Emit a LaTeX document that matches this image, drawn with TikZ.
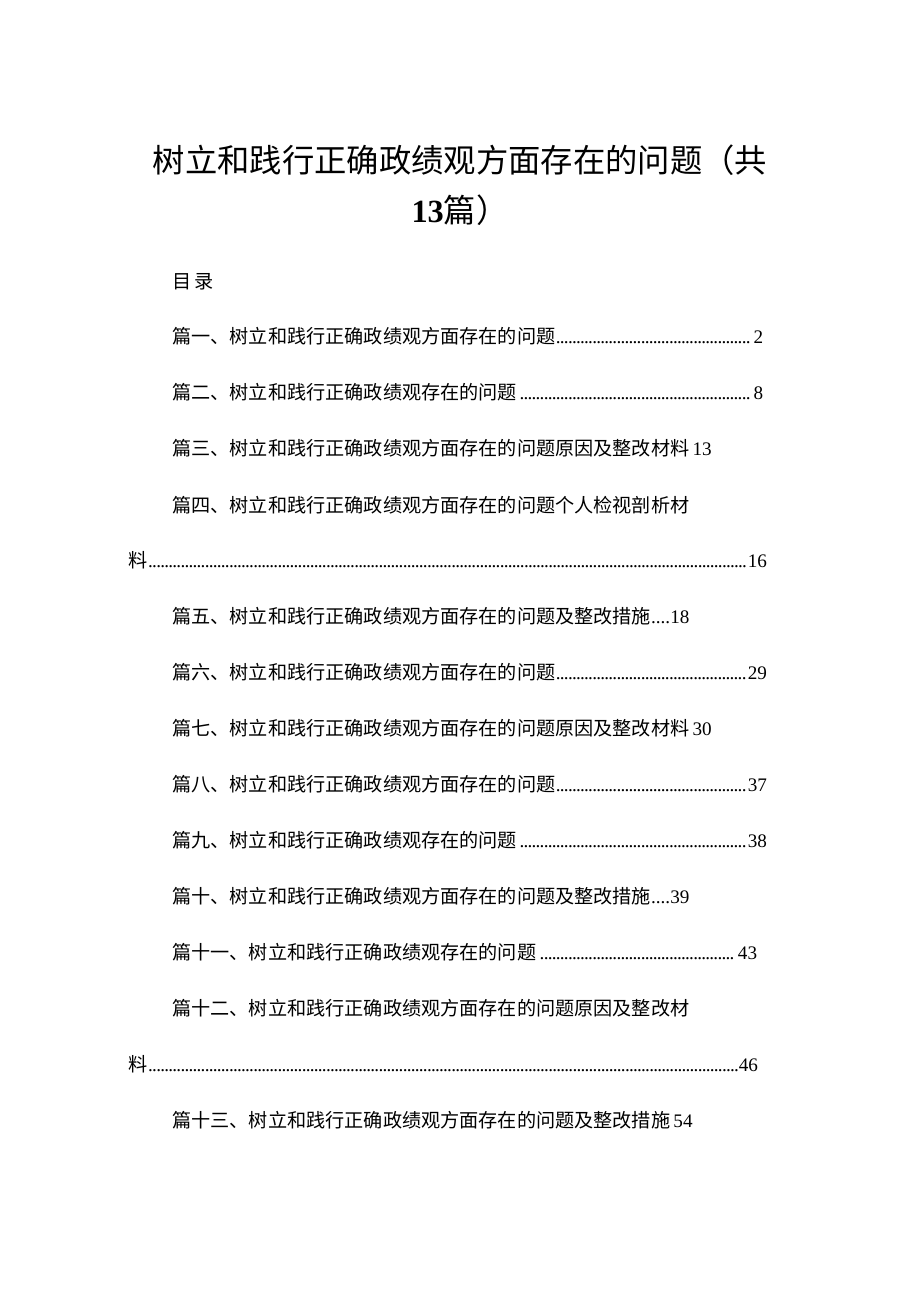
\documentclass[tikz,border=0pt]{standalone}
\usepackage{fontspec}
\setmainfont{Liberation Serif}
\newfontfamily\cjk{Noto Sans CJK SC}
\usetikzlibrary{positioning}
\tikzset{
  tocText/.style = {anchor=west, inner sep=0pt, font=\fontsize{10.9}{12}\selectfont},
  titleText/.style = {inner sep=0pt, font=\fontsize{18.4}{20}\selectfont}
}
\newcommand{\tocDots}{\leaders\hbox to 2.3pt{\hss.\hss}\hfill}
% one line with dot leaders: name, y, x, width(px), text, page
\newcommand{\tocLine}[6]{\node [tocText] (#1) at (#3,#2) {\makebox[\dimexpr #4pt*567/1000\relax][l]{{\cjk #5}\tocDots#6}};}
\newcommand{\tocPlain}[4]{\node [tocText] (#1) at (#3,#2) {{\cjk #4}};}
\begin{document}
\begin{tikzpicture}[x=0.02cm, y=-0.02cm]
  \useasboundingbox [fill=white] (0,0) rectangle (920,1301);
  \node [titleText] (title1) at (460,160) {\cjk 树立和践行正确政绩观方面存在的问题（共};
  \node [titleText] (title2) at (460,210) {\textbf{13}{\cjk 篇）}};
  \tocPlain{mulu}{282}{172}{目\,录}

  \tocLine{p1}{336}{172}{593}{篇一、树立和践行正确政绩观方面存在的问题}{2}
  \tocLine{p2}{392}{172}{593}{篇二、树立和践行正确政绩观存在的问题}{8}
  \tocPlain{p3}{448}{172}{篇三、树立和践行正确政绩观方面存在的问题原因及整改材料\,\rmfamily 13}
  \tocPlain{p4}{505}{172}{篇四、树立和践行正确政绩观方面存在的问题个人检视剖析材}
  \tocLine{p4b}{560}{128}{641}{料}{16}
  \tocPlain{p5}{616}{172}{篇五、树立和践行正确政绩观方面存在的问题及整改措施\rmfamily ....18}
  \tocLine{p6}{672}{172}{597}{篇六、树立和践行正确政绩观方面存在的问题}{29}
  \tocPlain{p7}{728}{172}{篇七、树立和践行正确政绩观方面存在的问题原因及整改材料\,\rmfamily 30}
  \tocLine{p8}{784}{172}{597}{篇八、树立和践行正确政绩观方面存在的问题}{37}
  \tocLine{p9}{840}{172}{597}{篇九、树立和践行正确政绩观存在的问题}{38}
  \tocPlain{p10}{896}{172}{篇十、树立和践行正确政绩观方面存在的问题及整改措施\rmfamily ....39}
  \tocLine{p11}{952}{172}{587}{篇十一、树立和践行正确政绩观存在的问题}{43}
  \tocPlain{p12}{1008}{172}{篇十二、树立和践行正确政绩观方面存在的问题原因及整改材}
  \tocLine{p12b}{1064}{128}{632}{料}{46}
  \tocPlain{p13}{1120}{172}{篇十三、树立和践行正确政绩观方面存在的问题及整改措施\,\rmfamily 54}
\end{tikzpicture}
\end{document}
